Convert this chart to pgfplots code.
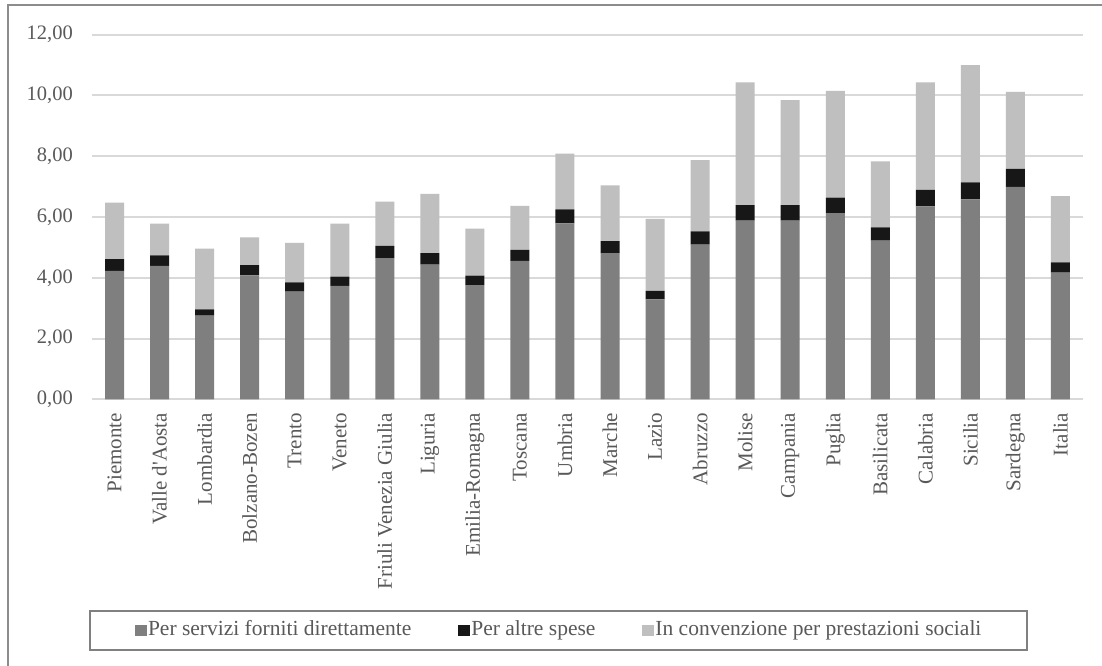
\documentclass[border=0pt]{standalone}
\usepackage{pgfplots}
\pgfplotsset{compat=1.18}
\usepackage{fontspec}
\setmainfont{Liberation Serif}

\definecolor{serv}{HTML}{7F7F7F}
\definecolor{altre}{HTML}{171717}
\definecolor{conv}{HTML}{BFBFBF}
\definecolor{gridc}{HTML}{D9D9D9}
\definecolor{txt}{HTML}{595959}
\definecolor{framec}{HTML}{8C8C8C}
\definecolor{legc}{HTML}{808080}

% Spesa per servizi sociali per regione: tre componenti impilate
\pgfplotstableread{
x  dir   altre conv
0  4.23  0.38  1.86
1  4.39  0.35  1.04
2  2.75  0.21  2.00
3  4.08  0.34  0.91
4  3.54  0.31  1.30
5  3.73  0.31  1.74
6  4.65  0.40  1.46
7  4.43  0.38  1.95
8  3.76  0.31  1.55
9  4.56  0.36  1.45
10 5.79  0.46  1.84
11 4.81  0.40  1.83
12 3.29  0.28  2.37
13 5.09  0.44  2.34
14 5.88  0.51  4.04
15 5.88  0.51  3.46
16 6.13  0.51  3.51
17 5.22  0.44  2.17
18 6.35  0.54  3.54
19 6.58  0.56  3.86
20 6.99  0.59  2.54
21 4.17  0.34  2.18
}\spesa

\begin{document}
\begin{tikzpicture}[x=1pt,y=1pt]
\useasboundingbox (0,0) rectangle (1102,665);
\fill[white] (0,0) rectangle (1102,665);
\draw[framec, line width=2pt] (8.3,-5) -- (8.3,660) -- (1110,660);
\begin{axis}[
  at={(92pt,265.7pt)}, anchor=south west,
  scale only axis,
  width=991pt, height=364.6pt,
  ybar stacked,
  bar width=19pt,
  xmin=-0.5, xmax=21.5,
  ymin=0, ymax=12,
  ytick={0,2,...,12},
  xtick={0,...,21},
  xticklabels={Piemonte, Valle d\textquotesingle Aosta, Lombardia, Bolzano-Bozen, Trento, Veneto,
    Friuli Venezia Giulia, Liguria, Emilia-Romagna, Toscana, Umbria, Marche, Lazio,
    Abruzzo, Molise, Campania, Puglia, Basilicata, Calabria, Sicilia, Sardegna, Italia},
  major tick length=0pt,
  axis line style={draw=none},
  ymajorgrids,
  major grid style={gridc, line width=2pt},
  /pgf/number format/.cd, fixed, fixed zerofill, precision=2, use comma, assume math mode=true,
  /pgfplots/.cd,
  yticklabel style={font=\fontsize{20.5}{24}\selectfont, text=txt, anchor=east, inner sep=0pt, xshift=-19pt},
  xticklabel style={font=\fontsize{21}{25}\selectfont, text=txt, rotate=90, anchor=east, inner sep=0pt, xshift=-13.5pt},
  legend columns=3,
  legend style={
    at={(-0.002,-0.5806)}, anchor=north west,
    draw=legc, line width=2pt, outer sep=0pt,
    inner xsep=45pt, inner ysep=9.5pt,
    font=\fontsize{21.5}{25}\selectfont, text=txt,
    nodes={inner xsep=1pt, inner ysep=0pt, text height=15pt, text depth=5pt},
    /tikz/every even column/.append style={column sep=46pt},
    /tikz/every odd column/.append style={column sep=0pt},
  },
  legend cell align=left,
  legend image code/.code={\fill[#1] (0pt,-5.5pt) rectangle (12pt,5.5pt);},
]
\addplot[fill=serv, draw=none] table[x=x, y=dir] {\spesa};
\addplot[fill=altre, draw=none] table[x=x, y=altre] {\spesa};
\addplot[fill=conv, draw=none] table[x=x, y=conv] {\spesa};
\legend{Per servizi forniti direttamente, Per altre spese, In convenzione per prestazioni sociali}
\end{axis}
\end{tikzpicture}
\end{document}
